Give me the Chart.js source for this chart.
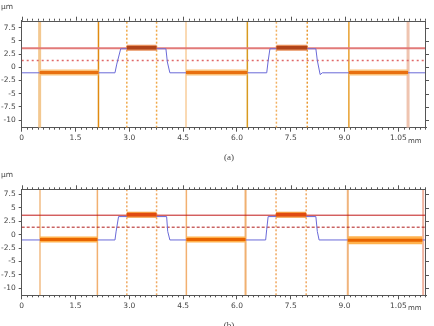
<!DOCTYPE html>
<html>
<head>
<meta charset="utf-8">
<script src="https://cdn.jsdelivr.net/npm/chart.js@4.4.1/dist/chart.umd.min.js"></script>
<style>
  html, body { margin: 0; padding: 0; background: #fff; }
  #wrap { position: relative; width: 434px; height: 326px; overflow: hidden; }
  canvas { position: absolute; left: 0; }
</style>
</head>
<body>
<div id="wrap">
  <canvas id="chartA" width="434" height="163" style="top:0"></canvas>
  <canvas id="chartB" width="434" height="163" style="top:163px"></canvas>
</div>
<script>
// tick labels (as printed in the figure)
const xTickLabels = ['0', '1.5', '3.0', '4.5', '6.0', '7.5', '9.0', '1.05'];
const yTickLabels = ['-10', '-7.5', '-5', '-2.5', '0', '2.5', '5', '7.5'];
const xMax = 11.27;

// panel (a)
const profileAX = [0, 2.60, 2.65, 2.76, 4.02, 4.06, 4.13, 6.83, 6.87, 6.92, 8.20, 8.24, 8.32, 8.38, 11.27];
const profileAY = [-1.05, -1.05, 0.6, 3.5, 3.5, 1.0, -1.05, -1.05, 1.2, 3.5, 3.5, 1.3, -1.4, -1.05, -1.05];
const cursorsA = [0.50, 2.14, 4.58, 6.29, 9.12, 10.77];
const dottedA = [2.93, 3.76, 7.10, 7.96];
const lowBarsA = [[0.50, 2.14], [4.58, 6.29], [9.12, 10.77]];
const highBarsA = [[2.93, 3.76], [7.10, 7.96]];
const lowLevelA = -1.0, highLevelA = 3.7;
const refLineA = 3.6, midLineA = 1.27;
const yRangeA = [-11.46, 8.83];

// panel (b)
const profileBX = [0, 2.60, 2.63, 2.70, 4.04, 4.07, 4.13, 6.80, 6.83, 6.87, 8.20, 8.24, 8.29, 11.27];
const profileBY = [-1.0, -1.0, 0.5, 3.35, 3.35, 0.6, -1.0, -1.0, 1.0, 3.35, 3.35, 0.6, -1.0, -1.0];
const cursorsB = [0.51, 2.11, 4.59, 6.24, 9.09, 11.19];
const dottedB = [2.93, 3.76, 7.09, 7.93];
const lowBarsB = [[0.51, 2.11], [4.59, 6.24], [9.09, 11.17]];
const highBarsB = [[2.93, 3.76], [7.09, 7.93]];
const lowLevelsB = [-0.93, -0.93, -1.04];
const highLevelB = 3.67;
const refLineB = 3.61, midLineB = 1.38;
const yRangeB = [-11.3, 8.43];

const minorStep = 0.15;
const tickFont = { family: 'DejaVu Sans', size: 7.5 };

// frame, minor ticks and extra labels
const framePlugin = {
  id: 'frame',
  afterDraw(chart, args, opts) {
    const ctx = chart.ctx, a = chart.chartArea;
    const x = chart.scales.x, y = chart.scales.y;
    ctx.save();
    ctx.strokeStyle = '#555';
    ctx.lineWidth = 1;
    ctx.beginPath();
    ctx.moveTo(a.left, Math.round(a.top) + 0.5); ctx.lineTo(a.right, Math.round(a.top) + 0.5);
    ctx.moveTo(Math.round(a.right) - 0.5, a.top); ctx.lineTo(Math.round(a.right) - 0.5, a.bottom);
    for (let k = 0; k * minorStep <= x.max; k++) {
      const px = Math.round(x.getPixelForValue(k * minorStep)) + 0.5;
      const major = k % 10 === 0;
      ctx.moveTo(px, a.top); ctx.lineTo(px, a.top - (major ? 4 : 2));
      if (!major) { ctx.moveTo(px, a.bottom); ctx.lineTo(px, a.bottom + 2); }
    }
    for (let v = -10; v <= 7.5; v += 2.5) {
      const py = Math.round(y.getPixelForValue(v)) + 0.5;
      ctx.moveTo(a.right, py); ctx.lineTo(a.right + 3, py);
    }
    ctx.stroke();

    ctx.fillStyle = '#444';
    ctx.font = '7.5px "DejaVu Sans"';
    ctx.textBaseline = 'middle';
    ctx.textAlign = 'left';
    ctx.fillText('μm', 1, a.top - 14);
    ctx.font = '7px "DejaVu Sans"';
    ctx.fillText('mm', 408, a.bottom + 13);
    ctx.font = '9px "Liberation Serif"';
    ctx.textAlign = 'center';
    ctx.fillText(opts.label, 229, a.bottom + 30);
    ctx.restore();
  }
};

function hLine(x0, x1, yv, color, width, dash, order) {
  return { data: [{ x: x0, y: yv }, { x: x1, y: yv }], borderColor: color, borderWidth: width,
    borderDash: dash || [], pointRadius: 0, order: order, borderCapStyle: 'butt' };
}
function vLine(xv, yr, color, width, dash, order) {
  return { data: [{ x: xv, y: yr[0] }, { x: xv, y: yr[1] }], borderColor: color, borderWidth: width,
    borderDash: dash || [], pointRadius: 0, order: order, borderCapStyle: 'butt' };
}

function makeChart(id, p) {
  const ds = [];
  // profile
  ds.push({ data: p.px.map((v, i) => ({ x: v, y: p.py[i] })), borderColor: '#6a6ad8', borderWidth: 1,
    pointRadius: 0, tension: 0, order: 2 });
  // reference lines
  ds.push(hLine(0, xMax, p.ref, p.style.ref, p.style.refW, [], 3));
  ds.push(hLine(0, xMax, p.mid, p.style.mid, p.style.midW, p.style.midDash, 3));
  // cursors
  p.cursors.forEach((c, i) => ds.push(vLine(c, p.yr, p.style.cursor[i], p.style.cursorW[i], [], 4)));
  p.dotted.forEach((c, i) => ds.push(vLine(c, p.yr, p.style.dotted[i], 1.5, [2, 2], 4)));
  // bars with halo
  p.low.forEach((b, i) => {
    ds.push(hLine(b[0], b[1], p.lowLv[i], p.style.lowHalo, p.style.lowHaloW[i], [], 1));
    ds.push(hLine(b[0], b[1], p.lowLv[i], p.style.lowCore, 3, [], 0));
  });
  p.high.forEach(b => {
    ds.push(hLine(b[0], b[1], p.highLv, p.style.highHalo, 6, [], 1));
    ds.push(hLine(b[0], b[1], p.highLv, p.style.highCore, 3.5, [], 0));
  });

  return new Chart(document.getElementById(id), {
    type: 'line',
    data: { datasets: ds },
    options: {
      responsive: false,
      animation: false,
      layout: { padding: { top: p.padTop, bottom: p.padBottom, right: 8, left: 0 } },
      plugins: { legend: { display: false }, tooltip: { enabled: false }, frame: { label: p.label } },
      scales: {
        x: {
          type: 'linear', min: 0, max: xMax,
          afterFit: s => { s.height = 16; },
          border: { color: '#555', width: 1 },
          grid: { drawOnChartArea: false, tickLength: 4, color: '#555' },
          ticks: { stepSize: 1.5, includeBounds: false, autoSkip: false, maxRotation: 0, padding: 2,
            color: '#444', font: tickFont, callback: (v, i) => xTickLabels[i] }
        },
        y: {
          type: 'linear', min: p.yr[0], max: p.yr[1],
          afterFit: s => { s.width = 21.7; },
          border: { color: '#555', width: 1 },
          grid: { drawOnChartArea: false, tickLength: 3, color: '#555' },
          ticks: { stepSize: 2.5, includeBounds: false, autoSkip: false, padding: 3,
            color: '#444', font: tickFont, callback: (v, i) => yTickLabels[i] }
        }
      }
    },
    plugins: [framePlugin]
  });
}

makeChart('chartA', {
  label: '(a)', padTop: 20.7, padBottom: 19.3, yr: yRangeA,
  px: profileAX, py: profileAY, ref: refLineA, mid: midLineA,
  cursors: cursorsA, dotted: dottedA, low: lowBarsA, lowLv: [lowLevelA, lowLevelA, lowLevelA],
  high: highBarsA, highLv: highLevelA,
  style: {
    ref: '#e27a78', refW: 2, mid: '#e06868', midW: 1.5, midDash: [2, 3],
    cursor: ['#f3c890', '#e08a10', '#f5b468', '#d89a20', '#e8a030', '#efc4b0'],
    cursorW: [3, 1.5, 1, 1.5, 1.5, 3],
    dotted: ['#f0a848', '#f0a848', '#f2b060', '#e89830'],
    lowHalo: '#f9c27a', lowHaloW: [6, 6, 6], lowCore: '#e87010',
    highHalo: '#e8905c', highCore: '#b0441a'
  }
});

makeChart('chartB', {
  label: '(b)', padTop: 26.3, padBottom: 14.7, yr: yRangeB,
  px: profileBX, py: profileBY, ref: refLineB, mid: midLineB,
  cursors: cursorsB, dotted: dottedB, low: lowBarsB, lowLv: lowLevelsB,
  high: highBarsB, highLv: highLevelB,
  style: {
    ref: '#c01818', refW: 1, mid: '#b01818', midW: 1, midDash: [3, 2],
    cursor: ['#f2bc84', '#f2b070', '#f2b070', '#f0b070', '#f0b47c', '#f0b4a0'],
    cursorW: [1.5, 1.5, 1.5, 2, 2, 2],
    dotted: ['#f0a860', '#f0a860', '#f0a860', '#f0a860'],
    lowHalo: '#ffb24e', lowHaloW: [6, 6, 8], lowCore: '#e86400',
    highHalo: '#f59a40', highCore: '#e04a10'
  }
});
</script>
</body>
</html>
